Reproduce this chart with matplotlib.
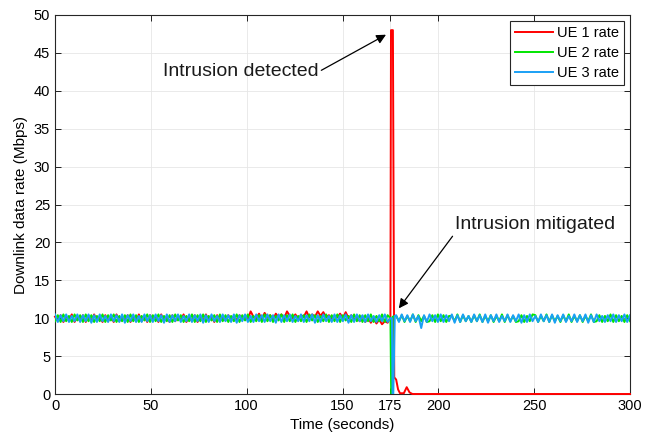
import numpy as np
import matplotlib
matplotlib.use('Agg')
import matplotlib.pyplot as plt

plt.rcParams['font.family'] = ['Liberation Sans', 'DejaVu Sans']

# 采样时间 (秒)
t_pre = np.linspace(0, 175, 121)
t_post = np.linspace(178, 300, 85)

# UE 1 (被攻击的用户)
ue1_pre = [10.2, 9.6, 10.4, 9.5, 10.3, 9.7, 10.5, 9.5, 10.2, 9.6,
           10.4, 9.5, 10.3, 9.6, 10.5, 9.7, 10.2, 9.5, 10.4, 9.6,
           10.3, 9.5, 10.5, 9.6, 10.2, 9.7, 10.4, 9.5, 10.3, 9.6,
           10.5, 9.6, 10.2, 9.5, 10.4, 9.7, 10.3, 9.5, 10.5, 9.6,
           10.2, 9.5, 10.4, 9.6, 10.3, 9.7, 10.5, 9.5, 10.2, 9.6,
           10.4, 9.5, 10.3, 9.6, 10.5, 9.7, 10.2, 9.5, 10.4, 9.6,
           10.2, 9.7, 10.4, 9.8, 10.3, 9.7, 10.4, 9.8, 10.2, 9.9,
           10.9, 10.2, 10.0, 10.6, 9.9, 10.7, 10.1, 10.4, 9.8, 10.6,
           10.1, 10.5, 10.0, 10.9, 10.3, 10.0, 10.5, 9.9, 10.4, 10.2,
           10.9, 10.1, 10.5, 10.2, 10.9, 10.3, 10.8, 10.1, 10.4, 9.9,
           10.3, 10.1, 10.6, 10.0, 10.8, 10.0, 10.4, 9.8, 10.2, 9.6,
           10.3, 9.5, 10.1, 9.4, 10.0, 9.3, 9.8, 9.2, 9.6, 9.4, 10.1]
ue1_t_after = [175.3, 176.3, 177.0, 178.0, 179.0, 180.0, 182.0, 183.5, 185.0, 186.5, 300]
ue1_after = [48, 48, 2.2, 1.9, 0.6, 0.1, 0.1, 0.9, 0.2, 0, 0]

# UE 2
ue2_pre = [9.6, 10.4, 9.5, 10.5, 9.6, 10.3, 9.5, 10.5, 9.7, 10.4,
           9.5, 10.5, 9.6, 10.4, 9.5, 10.3, 9.6, 10.5, 9.5, 10.4,
           9.7, 10.5, 9.5, 10.3, 9.6, 10.4, 9.5, 10.5, 9.6, 10.4,
           9.5, 10.3, 9.7, 10.5, 9.5, 10.4, 9.6, 10.5, 9.5, 10.3,
           9.6, 10.4, 9.5, 10.5, 9.7, 10.4, 9.5, 10.3, 9.6, 10.5,
           9.5, 10.4, 9.6, 10.5, 9.5, 10.3, 9.7, 10.4, 9.5, 10.5,
           9.6, 10.4, 9.5, 10.3, 9.6, 10.5, 9.5, 10.4, 9.7, 10.5,
           9.5, 10.3, 9.6, 10.4, 9.5, 10.5, 9.6, 10.4, 9.5, 10.3,
           9.7, 10.5, 9.5, 10.4, 9.6, 10.5, 9.5, 10.3, 9.6, 10.4,
           9.5, 10.5, 9.7, 10.4, 9.5, 10.3, 9.6, 10.5, 9.5, 10.4,
           9.6, 10.5, 9.5, 10.4, 9.7, 10.3, 9.5, 10.5, 9.6, 10.4,
           9.5, 10.4, 9.6, 10.5, 9.5, 10.3, 9.6, 10.5, 9.5, 10.4, 10.0]
ue2_t_drop = [175.4, 175.9, 176.2]
ue2_drop = [0, 0, 10.2]
ue2_post = [10.3, 9.6, 10.4, 9.5, 10.3, 9.6, 10.5, 9.5, 10.4, 9.6,
            10.3, 9.5, 9.6, 10.4, 9.5, 10.5, 9.6, 10.4, 9.5, 10.3,
            10.3, 9.6, 10.5, 9.5, 10.4, 9.6, 10.3, 9.5, 10.4, 9.6,
            10.5, 9.5, 10.3, 9.6, 10.4, 9.5, 10.3, 9.6, 10.5, 9.5,
            10.4, 9.6, 10.3, 9.5, 9.6, 10.4, 9.5, 10.3, 9.6, 10.5,
            10.4, 9.5, 10.3, 9.6, 10.5, 9.5, 10.4, 9.6, 10.3, 9.5,
            10.4, 9.6, 10.5, 9.5, 10.3, 9.6, 10.4, 9.5, 10.3, 9.6,
            10.5, 9.5, 9.6, 10.4, 9.5, 10.3, 9.6, 10.5, 9.5, 10.4,
            9.6, 10.3, 9.5, 10.4, 9.6]

# UE 3
ue3_pre = [10.5, 9.5, 10.4, 9.6, 10.5, 9.5, 10.3, 9.6, 10.5, 9.5,
           10.4, 9.6, 10.5, 9.4, 10.4, 9.5, 10.5, 9.6, 10.3, 9.5,
           10.5, 9.6, 10.4, 9.5, 10.5, 9.4, 10.4, 9.6, 10.5, 9.5,
           10.3, 9.5, 10.5, 9.6, 10.4, 9.5, 10.5, 9.6, 10.4, 9.4,
           10.5, 9.5, 10.4, 9.6, 10.5, 9.5, 10.3, 9.6, 10.5, 9.5,
           10.4, 9.6, 10.5, 9.4, 10.4, 9.5, 10.5, 9.6, 10.3, 9.5,
           10.5, 9.6, 10.4, 9.5, 10.5, 9.4, 10.4, 9.6, 10.5, 9.5,
           10.3, 9.5, 10.5, 9.6, 10.4, 9.5, 10.5, 9.6, 10.4, 9.4,
           10.5, 9.5, 10.4, 9.6, 10.5, 9.5, 10.3, 9.6, 10.5, 9.5,
           10.4, 9.6, 10.5, 9.4, 10.4, 9.5, 10.5, 9.6, 10.3, 9.5,
           10.5, 9.5, 10.4, 9.6, 10.5, 9.4, 10.4, 9.5, 10.5, 9.6,
           10.4, 9.5, 10.5, 9.6, 10.3, 9.5, 10.4, 9.6, 10.5, 9.5, 10.0]
ue3_t_drop = [175.8, 176.1, 176.5, 177.3]
ue3_drop = [10.0, 0, 0, 10.3]
ue3_post = [10.4, 9.5, 10.5, 9.6, 10.4, 9.5, 10.5, 9.6, 10.3, 8.7,
            10.4, 9.5, 10.5, 9.6, 10.4, 9.5, 10.5, 9.5, 10.4, 9.6,
            10.5, 9.4, 10.4, 9.5, 10.5, 9.6, 10.3, 9.5, 10.5, 9.6,
            10.4, 9.5, 10.5, 9.4, 10.4, 9.6, 10.5, 9.5, 10.3, 9.6,
            10.5, 9.5, 10.4, 9.6, 10.5, 9.4, 10.4, 9.5, 10.5, 9.6,
            10.3, 9.5, 10.5, 9.6, 10.4, 9.5, 10.5, 9.4, 10.4, 9.6,
            10.5, 9.5, 10.3, 9.6, 10.5, 9.5, 10.4, 9.6, 10.5, 9.4,
            10.4, 9.5, 10.5, 9.6, 10.3, 9.5, 10.4, 9.6, 10.5, 9.5,
            10.4, 9.6, 10.5, 9.5, 10.4]

x_ticks = [0, 50, 100, 150, 175, 200, 250, 300]

t1 = np.concatenate([t_pre, ue1_t_after])
y1 = np.concatenate([ue1_pre, ue1_after])
t2 = np.concatenate([t_pre, ue2_t_drop, t_post])
y2 = np.concatenate([ue2_pre, ue2_drop, ue2_post])
t3 = np.concatenate([t_pre, ue3_t_drop, t_post])
y3 = np.concatenate([ue3_pre, ue3_drop, ue3_post])

fig = plt.figure(figsize=(6.52, 4.41), dpi=100)
ax = fig.add_axes([55 / 652, 1 - 394 / 441, 575 / 652, 379 / 441])

ax.plot(t1, y1, color='#ff0000', lw=1.4, label='UE 1 rate', zorder=3, clip_on=False)
ax.plot(t2, y2, color='#00e600', lw=1.4, label='UE 2 rate', zorder=3)
ax.plot(t3, y3, color='#1aa0f5', lw=1.4, label='UE 3 rate', zorder=3)

ax.set_xlim(0, 300)
ax.set_ylim(0, 50)
ax.set_xticks(x_ticks)
ax.set_yticks(np.arange(0, 51, 5))
ax.tick_params(direction='in', top=True, right=True, labelsize=10.5, length=4, width=0.6)
ax.grid(True, color='#e6e6e6', lw=0.6)
ax.set_axisbelow(True)
for s in ax.spines.values():
    s.set_linewidth(0.8)
    s.set_color('#262626')

ax.set_xlabel('Time (seconds)', fontsize=11)
ax.set_ylabel('Downlink data rate (Mbps)', fontsize=11)

leg = ax.legend(loc='upper right', fontsize=10.5, fancybox=False, framealpha=1,
                edgecolor='#262626', handlelength=2.6, borderaxespad=0.4,
                handletextpad=0.3, labelspacing=0.4, borderpad=0.35)
leg.get_frame().set_linewidth(0.8)
leg.set_zorder(5)

ax.annotate('Intrusion detected', xy=(172.7, 47.4), xytext=(56.3, 42.5),
            fontsize=14, va='center', ha='left', color='#1a1a1a',
            arrowprops=dict(arrowstyle='-|>', color='k', lw=0.9,
                            mutation_scale=14, shrinkA=0, shrinkB=0,
                            relpos=(1, 0.5)))
ax.annotate('Intrusion mitigated', xy=(179.4, 11.3), xytext=(208.5, 22.3),
            fontsize=14, va='center', ha='left', color='#1a1a1a',
            arrowprops=dict(arrowstyle='-|>', color='k', lw=0.9,
                            mutation_scale=14, shrinkA=0, shrinkB=0,
                            relpos=(0, 0.0)))

fig.savefig('out.png', dpi=100)
